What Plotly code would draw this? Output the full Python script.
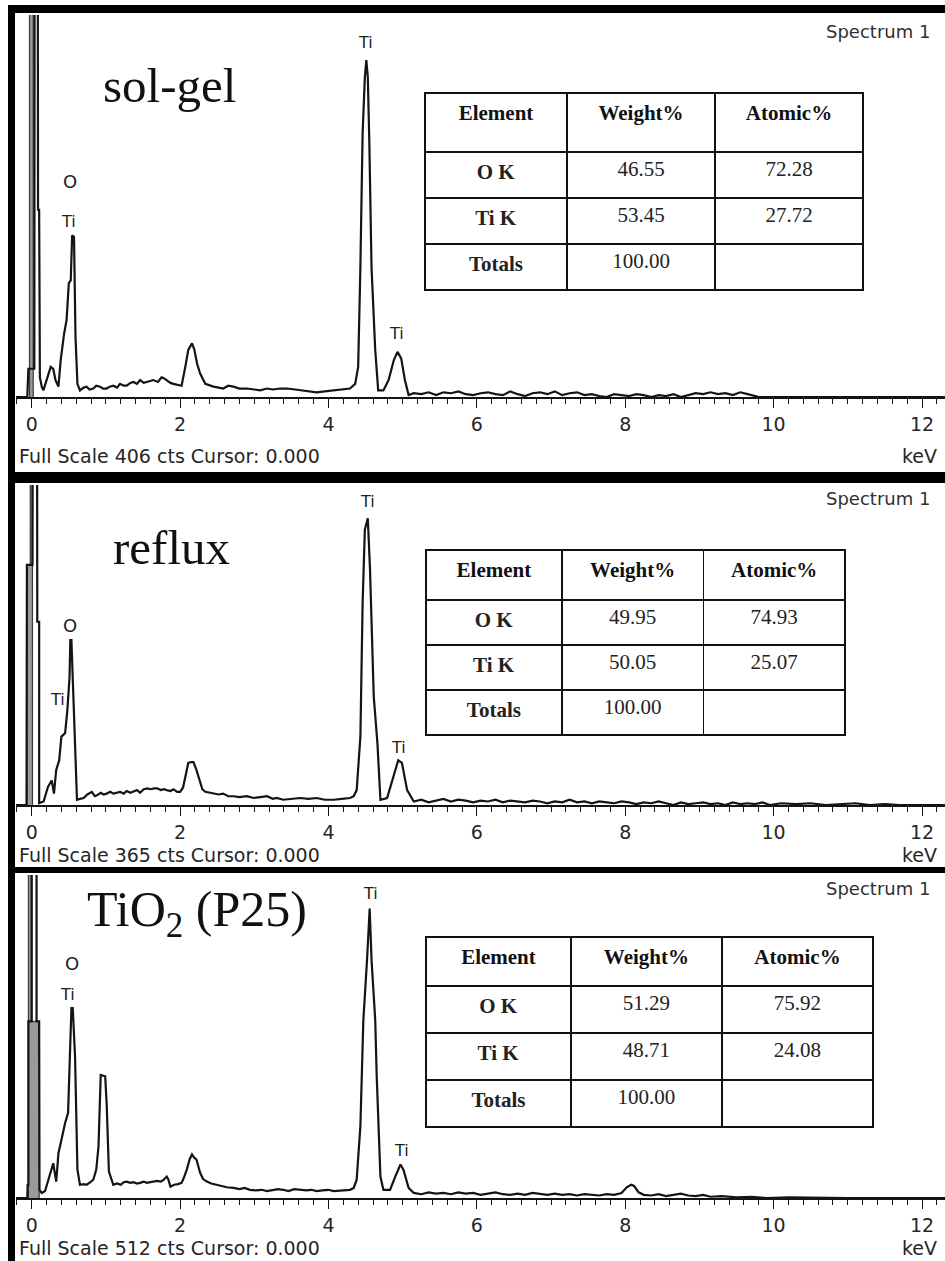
import plotly.graph_objects as go

W, H = 945, 1261

# ---------------- EDS spectra (energy in keV, intensity in counts) ----------------
# zero-energy strobe peak, drawn as a grey filled strip
sg_strobe_e = [-0.03, -0.03, 0.02, 0.02]
sg_strobe_c = [0, 600, 600, 0]
rf_strobe_e = [-0.065, -0.065, -0.02, -0.02, 0.01, 0.01]
rf_strobe_c = [0, 274, 274, 600, 600, 0]
p25_strobe_e = [-0.045, -0.045, -0.005, -0.005, 0.10, 0.10]
p25_strobe_c = [0, 700, 700, 280, 280, 0]

# sol-gel
sg_e = [-0.212, -0.06, -0.045, -0.03, 0.035, 0.04, 0.08, 0.085, 0.10, 0.11,
        0.135, 0.157, 0.20, 0.256, 0.29, 0.32, 0.36, 0.39, 0.436, 0.47, 0.50,
        0.526, 0.545, 0.57, 0.59, 0.616, 0.65, 0.70, 0.74, 0.78, 0.83, 0.87, 0.92,
        0.96, 1.01, 1.05, 1.10, 1.15, 1.19, 1.24, 1.28, 1.33, 1.37, 1.42, 1.46, 1.51,
        1.55, 1.60, 1.64, 1.70, 1.75, 1.78, 1.82, 1.87, 1.91, 1.96, 2.02, 2.07, 2.11,
        2.16, 2.19, 2.23, 2.27, 2.34, 2.40, 2.45, 2.52, 2.58, 2.65, 2.72, 2.80, 2.90,
        3.00, 3.08, 3.17, 3.25, 3.35, 3.44, 3.55, 3.65, 3.71, 3.84, 3.95, 4.07, 4.18,
        4.29, 4.36, 4.40, 4.43, 4.46, 4.49, 4.51, 4.53, 4.55, 4.58, 4.63, 4.67, 4.74,
        4.81, 4.88, 4.93, 4.98, 5.03, 5.08,
        5.15, 5.25, 5.35, 5.45, 5.55, 5.65, 5.75, 5.85, 5.95, 6.05, 6.15, 6.25, 6.35,
        6.45, 6.55, 6.65, 6.75, 6.85, 6.95, 7.05, 7.15, 7.25, 7.35, 7.45, 7.55, 7.65,
        7.75, 7.85, 7.95, 8.05, 8.15, 8.25, 8.35, 8.45, 8.55, 8.65, 8.75, 8.85, 8.95,
        9.05, 9.15, 9.25, 9.35, 9.45, 9.55, 9.65, 9.80, 10.5, 12.31]
sg_c = [0, 0, 30, 30, 30, 600, 600, 199, 199, 21,
        11, 7, 18, 32, 30, 18, 11, 39, 67, 82, 121,
        124, 172, 170, 64, 14, 7, 10, 11, 8, 9, 12, 11,
        9, 9, 11, 12, 10, 14, 12, 12, 15, 16, 14, 18, 15,
        16, 17, 18, 16, 21, 20, 18, 15, 14, 13, 12, 32, 50,
        57, 51, 35, 25, 14, 12, 11, 10, 9, 12, 11, 9, 9,
        8, 7, 9, 8, 9, 9, 8, 7, 7, 5, 6, 7, 8,
        9, 14, 32, 138, 280, 340, 358, 340, 273, 138, 50, 7, 7,
        18, 39, 48, 41, 18, 2,
        4, 3, 5, 2, 5, 4, 6, 3, 2, 4, 5, 3, 2,
        6, 3, 1, 4, 5, 3, 6, 2, 4, 5, 2, 3, 1,
        0, 3, 2, 1, 3, 2, 0, 2, 1, 3, 0, 2, 4,
        3, 5, 3, 4, 2, 5, 3, 0, 0, 0]

# reflux
rf_e = [-0.212, -0.07, -0.065, -0.02, 0.01, 0.015, 0.07, 0.075, 0.10, 0.10,
        0.16, 0.22, 0.27, 0.30, 0.33, 0.37, 0.40, 0.45, 0.48, 0.51, 0.52,
        0.535, 0.553, 0.58, 0.61, 0.65, 0.70, 0.75, 0.81, 0.85, 0.88, 0.93, 0.97,
        1.01, 1.06, 1.10, 1.15, 1.19, 1.24, 1.28, 1.33, 1.37, 1.42, 1.46, 1.51, 1.56,
        1.60, 1.65, 1.69, 1.74, 1.78, 1.82, 1.87, 1.91, 1.96, 2.00, 2.04, 2.07, 2.11,
        2.15, 2.18, 2.22, 2.27, 2.30, 2.34, 2.40, 2.45, 2.52, 2.58, 2.65, 2.72, 2.80,
        2.90, 2.99, 3.08, 3.17, 3.25, 3.30, 3.39, 3.50, 3.62, 3.73, 3.84, 3.95, 4.07,
        4.18, 4.29, 4.34, 4.38, 4.43, 4.46, 4.49, 4.53, 4.56, 4.61, 4.66, 4.70, 4.79,
        4.87, 4.94, 4.99, 5.06,
        5.15, 5.25, 5.35, 5.45, 5.55, 5.65, 5.75, 5.85, 5.95, 6.05, 6.15, 6.25, 6.35,
        6.45, 6.55, 6.65, 6.75, 6.85, 6.95, 7.05, 7.15, 7.25, 7.35, 7.45, 7.55, 7.65,
        7.75, 7.85, 7.95, 8.05, 8.15, 8.25, 8.35, 8.45, 8.55, 8.65, 8.75, 8.85, 8.95,
        9.05, 9.15, 9.25, 9.35, 9.45, 9.55, 9.65, 9.75, 9.85, 9.95, 10.1, 10.3, 10.5,
        10.7, 10.9, 11.1, 11.3, 11.5, 11.7, 12.31]
rf_c = [0, 0, 274, 274, 274, 600, 600, 209, 209, 2,
        4, 21, 28, 13, 40, 51, 78, 82, 108, 146, 188,
        188, 146, 63, 6, 7, 8, 12, 15, 10, 11, 14, 12,
        13, 15, 13, 14, 15, 13, 16, 14, 15, 17, 14, 18, 19,
        18, 19, 19, 17, 18, 17, 16, 18, 15, 15, 20, 32, 48,
        49, 49, 40, 25, 18, 15, 14, 13, 12, 13, 10, 10, 9,
        10, 8, 9, 10, 7, 8, 6, 7, 8, 7, 8, 6, 6,
        7, 8, 10, 17, 78, 230, 314, 327, 268, 124, 70, 6, 8,
        32, 51, 48, 17,
        4, 6, 3, 5, 7, 4, 6, 5, 3, 5, 4, 6, 3,
        5, 4, 3, 5, 4, 2, 4, 3, 6, 3, 4, 2, 4,
        3, 2, 4, 3, 1, 3, 2, 4, 2, 0, 3, 1, 2,
        3, 1, 2, 0, 3, 1, 2, 1, 3, 0, 2, 1, 2,
        0, 1, 2, 0, 1, 0, 0]

# TiO2 (P25)
p25_e = [-0.212, -0.06, -0.055, -0.045, -0.045, 0.0, 0.0, 0.065, 0.065, 0.10, 0.105,
         0.135, 0.18, 0.25, 0.29, 0.33, 0.36, 0.40, 0.45, 0.49, 0.52, 0.535,
         0.553, 0.584, 0.616, 0.65, 0.70, 0.74, 0.79, 0.83, 0.87, 0.90, 0.93, 0.99,
         1.01, 1.04, 1.10, 1.15, 1.20, 1.24, 1.28, 1.33, 1.37, 1.42, 1.46, 1.51, 1.55,
         1.60, 1.64, 1.69, 1.74, 1.78, 1.82, 1.84, 1.87, 1.92, 1.97, 2.02, 2.05, 2.09,
         2.13, 2.16, 2.19, 2.22, 2.27, 2.31, 2.36, 2.42, 2.49, 2.56, 2.63, 2.72, 2.80,
         2.87, 2.94, 3.02, 3.10, 3.17, 3.25, 3.32, 3.39, 3.46, 3.54, 3.62, 3.70, 3.77,
         3.84, 3.92, 4.00, 4.07, 4.15, 4.22, 4.29, 4.34, 4.38, 4.43, 4.47, 4.52, 4.545,
         4.555, 4.58, 4.63, 4.65, 4.70, 4.74, 4.83, 4.90, 4.97, 5.01, 5.08,
         5.15, 5.25, 5.35, 5.45, 5.55, 5.65, 5.75, 5.85, 5.95, 6.05, 6.15, 6.25, 6.35,
         6.45, 6.55, 6.65, 6.75, 6.85, 6.95, 7.05, 7.15, 7.25, 7.35, 7.45, 7.55, 7.65,
         7.75, 7.85, 7.95, 8.02, 8.08, 8.12, 8.18, 8.25, 8.35, 8.45, 8.55, 8.65, 8.75,
         8.85, 8.95, 9.05, 9.15, 9.30, 9.50, 9.70, 9.90, 10.2, 10.6, 11.0, 11.5, 12.31]
p25_c = [0, 0, 21, 21, 280, 280, 700, 700, 280, 280, 13,
         8, 11, 40, 55, 26, 71, 92, 119, 135, 277, 301,
         301, 224, 45, 21, 22, 21, 25, 29, 45, 82, 195, 193,
         150, 42, 21, 23, 21, 25, 26, 24, 25, 23, 24, 26, 24,
         25, 26, 27, 26, 29, 34, 30, 18, 21, 22, 24, 32, 45,
         62, 69, 64, 61, 40, 30, 26, 23, 21, 19, 17, 16, 14,
         16, 13, 12, 13, 11, 12, 14, 13, 11, 14, 13, 12, 13,
         11, 12, 13, 11, 12, 12, 13, 16, 29, 114, 282, 378, 459,
         459, 378, 282, 193, 34, 13, 13, 34, 53, 45, 16,
         8, 6, 9, 7, 8, 6, 9, 7, 8, 5, 7, 9, 6,
         5, 7, 5, 8, 6, 5, 7, 5, 6, 4, 6, 5, 4,
         6, 5, 8, 17, 21, 19, 9, 5, 4, 6, 3, 5, 7,
         4, 3, 5, 2, 3, 1, 2, 0, 1, 0, 0, 0, 0]

# Quantification tables
table_head = ["Element", "Weight%", "Atomic%"]
table_elements = ["O K", "Ti K", "Totals"]
sg_weight = ["46.55", "53.45", "100.00"]
sg_atomic = ["72.28", "27.72", " "]
rf_weight = ["49.95", "50.05", "100.00"]
rf_atomic = ["74.93", "25.07", " "]
p25_weight = ["51.29", "48.71", "100.00"]
p25_atomic = ["75.92", "24.08", " "]

full_scales = [406, 365, 512]
sample_names = ["sol-gel", "reflux", "TiO<sub>2</sub> (P25)"]

# peak labels (energy, counts, text) per panel
sg_peaks = [(4.50, 377, "Ti"), (0.52, 229, "O"), (0.49, 186, "Ti"), (4.91, 68, "Ti")]
rf_peaks = [(4.52, 346, "Ti"), (0.52, 205, "O"), (0.35, 120, "Ti"), (4.94, 66, "Ti")]
p25_peaks = [(4.56, 483, "Ti"), (0.54, 372, "O"), (0.48, 322, "Ti"), (4.99, 76, "Ti")]


def py(y):
    return 1 - y / H


def px(x):
    return x / W


# layout geometry of each panel (pixel rows)
panel_geom = [
    dict(top=15, axis=397, note=456, name=(169, 86), name_size=49,
         table=(425, 863, 93, 59, 46), spec_y=31),
    dict(top=485, axis=805, note=855, name=(171, 547), name_size=49,
         table=(426, 845, 550, 50, 45), spec_y=499),
    dict(top=875, axis=1198, note=1248, name=(197, 913), name_size=50,
         table=(426, 873, 937, 49, 47), spec_y=888),
]

strobes = [(sg_strobe_e, sg_strobe_c), (rf_strobe_e, rf_strobe_c), (p25_strobe_e, p25_strobe_c)]
spectra = [(sg_e, sg_c), (rf_e, rf_c), (p25_e, p25_c)]
tables = [(sg_weight, sg_atomic), (rf_weight, rf_atomic), (p25_weight, p25_atomic)]
peaks = [sg_peaks, rf_peaks, p25_peaks]

fig = go.Figure()
annotations = []
shapes = []

XRANGE = [-0.212, 12.31]
ink = "#141414"

for i in range(3):
    g = panel_geom[i]
    n = i + 1
    xa = "x" if n == 1 else f"x{n}"
    ya = "y" if n == 1 else f"y{n}"

    se, sc = strobes[i]
    fig.add_trace(go.Scatter(x=se, y=sc, xaxis=xa, yaxis=ya, mode="lines",
                             line=dict(color="#3a3a3a", width=1.2), fill="toself",
                             fillcolor="#9a9a9a", hoverinfo="skip", showlegend=False))
    e, c = spectra[i]
    fig.add_trace(go.Scatter(x=e, y=c, xaxis=xa, yaxis=ya, mode="lines",
                             line=dict(color=ink, width=2.2), hoverinfo="skip",
                             showlegend=False))

    axis_common = dict(
        domain=[px(16), 1.0], range=XRANGE, showgrid=False, zeroline=False,
        showline=True, linecolor=ink, linewidth=1.6,
        ticks="outside", ticklen=9, tickwidth=1.4, tickcolor=ink,
        tick0=0, dtick=2,
        minor=dict(ticks="outside", dtick=0.2, tick0=0, ticklen=5, tickwidth=1.2,
                   tickcolor=ink, showgrid=False),
        tickfont=dict(family="DejaVu Sans", size=19, color="#262626"),
        ticklabelstandoff=0, fixedrange=True,
    )
    fig.update_layout(**{
        ("xaxis" if n == 1 else f"xaxis{n}"): dict(anchor=ya, **axis_common),
        ("yaxis" if n == 1 else f"yaxis{n}"): dict(
            anchor=xa, domain=[py(g["axis"]), py(g["top"])],
            range=[0, full_scales[i]], visible=False, fixedrange=True),
    })

    # status line under the axis
    annotations.append(dict(
        x=px(17), y=py(g["note"]), xref="paper", yref="paper",
        text=f"Full Scale {full_scales[i]} cts Cursor: 0.000", showarrow=False,
        xanchor="left", yanchor="middle",
        font=dict(family="DejaVu Sans", size=19, color="#262626")))
    annotations.append(dict(
        x=px(939), y=py(g["note"]), xref="paper", yref="paper", text="keV",
        showarrow=False, xanchor="right", yanchor="middle",
        font=dict(family="DejaVu Sans", size=19, color="#262626")))
    annotations.append(dict(
        x=px(932), y=py(g["spec_y"]), xref="paper", yref="paper", text="Spectrum 1",
        showarrow=False, xanchor="right", yanchor="middle",
        font=dict(family="DejaVu Sans", size=18, color="#303030")))

    # sample name
    annotations.append(dict(
        x=px(g["name"][0]), y=py(g["name"][1]), xref="paper", yref="paper",
        text=sample_names[i], showarrow=False, xanchor="center", yanchor="middle",
        font=dict(family="Liberation Serif", size=g["name_size"], color="#111111")))

    # peak identifications
    for (pe, pc, lab) in peaks[i]:
        annotations.append(dict(
            x=pe, y=pc, xref=xa, yref=ya, text=lab, showarrow=False,
            xanchor="center", yanchor="middle",
            font=dict(family="DejaVu Sans", size=16 if lab == "Ti" else 18,
                      color="#1e1e1e")))

    # quantification table
    tx0, tx1, ty0, hh, rh = g["table"]
    wt, at = tables[i]
    fig.add_trace(go.Table(
        domain=dict(x=[px(tx0), px(tx1)], y=[py(ty0 + hh + 3 * rh + 2), py(ty0)]),
        columnwidth=[142, 148, 148],
        header=dict(values=[f"<b>{h}</b>" for h in table_head], height=hh,
                    align="center", fill=dict(color="white"),
                    line=dict(color="#111111", width=1.6),
                    font=dict(family="Liberation Serif", size=21, color="#111111")),
        cells=dict(values=[[f"<b>{el}</b>" for el in table_elements], wt, at],
                   height=rh, align="center", fill=dict(color="white"),
                   line=dict(color="#111111", width=1.6),
                   font=dict(family="Liberation Serif", size=21, color="#222222")),
    ))

# frame of the three stacked panels
for (x0, x1, y0, y1) in [(8, 15, 5, 1261), (8, 945, 5, 13), (8, 945, 472, 483),
                         (8, 945, 867, 873)]:
    shapes.append(dict(type="rect", xref="paper", yref="paper",
                       x0=px(x0), x1=px(x1), y0=py(y1), y1=py(y0),
                       fillcolor="black", line=dict(width=0), layer="above"))

fig.update_layout(
    width=W, height=H, margin=dict(l=0, r=0, t=0, b=0),
    paper_bgcolor="white", plot_bgcolor="white",
    annotations=annotations, shapes=shapes, showlegend=False,
)

fig.write_html("out.html")
